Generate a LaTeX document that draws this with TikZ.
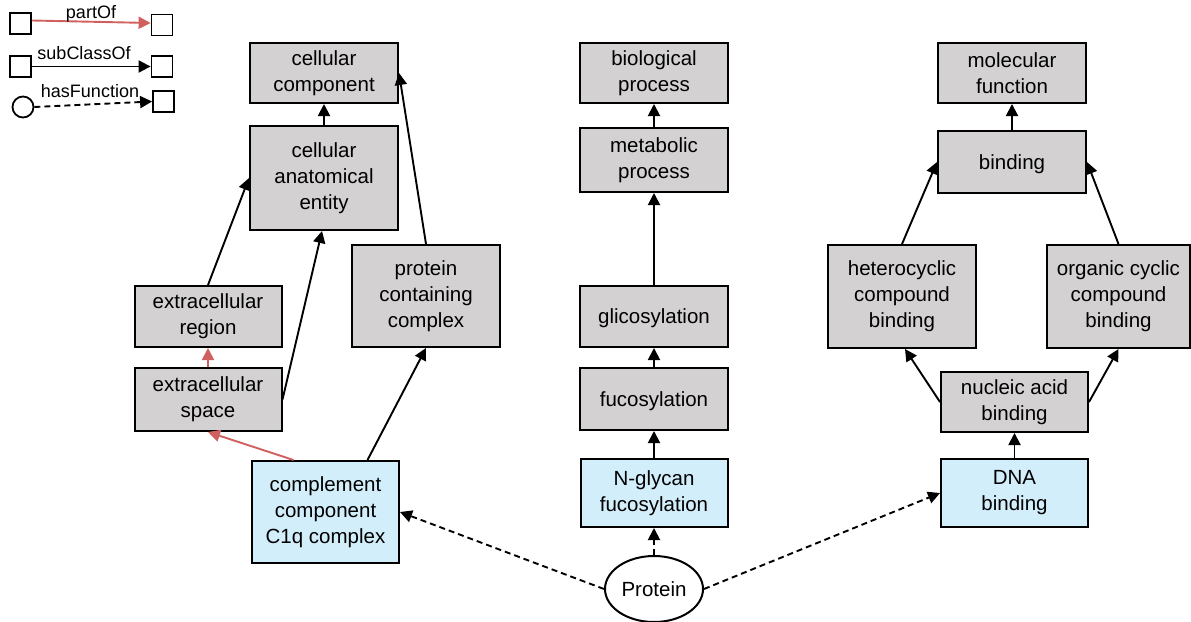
\documentclass[tikz,border=0pt]{standalone}
\usepackage{fontspec}
\setmainfont{Liberation Sans}
\usetikzlibrary{arrows.meta,shapes.geometric}
\definecolor{boxgray}{HTML}{D3D1D2}
\definecolor{boxblue}{HTML}{D3EEFB}
\definecolor{partred}{HTML}{D0605E}
\begin{document}
\begin{tikzpicture}[x=1pt,y=-1pt,
  term/.style={draw=black, line width=2pt, fill=boxgray, align=center, inner sep=0pt,
    font=\fontsize{20.5}{26}\selectfont, execute at begin node={\rule{0pt}{19pt}}, minimum width=148pt},
  annot/.style={term, fill=boxblue},
  legbox/.style={draw=black, line width=1.8pt, fill=white, minimum width=21pt, minimum height=21pt, inner sep=0pt},
  legtext/.style={font=\fontsize{18}{20}\selectfont, inner sep=0pt},
  sub/.style={line width=1.9pt, -{Triangle[length=12pt,width=12pt]}},
  part/.style={sub, draw=partred, color=partred},
  hasfn/.style={sub, dash pattern=on 6pt off 4pt},
]
\useasboundingbox (0,0) rectangle (1191,621);

% legend
\node[legbox] (ls1) at (20.5,23.5) {};
\node[legbox] (lt1) at (162,25) {};
\node[legbox] (ls2) at (20.5,66.5) {};
\node[legbox] (lt2) at (162,66.5) {};
\node[draw=black, line width=1.8pt, circle, minimum size=21pt, inner sep=0pt] (ls3) at (23,107) {};
\node[legbox] (lt3) at (163.5,101.5) {};
\draw[part] ([yshift=3pt]ls1.east) -- ([yshift=2pt]lt1.west);
\draw[sub] (ls2.east) -- (lt2.west);
\draw[hasfn] (ls3.east) -- (lt3.west);
\node[legtext] (lp) at (91,14) {partOf};
\node[legtext] (ls) at (84,53) {subClassOf};
\node[legtext] (lh) at (90,91) {hasFunction};

% cellular component branch
\node[term, minimum height=60pt] (cc) at (324,73) {cellular\\component};
\node[term, minimum height=104pt] (cae) at (324,178) {cellular\\anatomical\\entity};
\node[term, minimum width=147pt, minimum height=61pt] (ecr) at (208,316.5) {extracellular\\region};
\node[term, minimum width=147pt, minimum height=63pt] (ecs) at (208,399.5) {extracellular\\space};
\node[term, minimum height=102pt] (pcc) at (426,296) {protein\\containing\\complex};
\node[annot, minimum width=147pt, minimum height=102pt] (c1q) at (325.5,512) {complement\\component\\C1q complex};

% biological process branch
\node[term, minimum height=60pt] (bp) at (654,73) {biological\\process};
\node[term, minimum height=64pt] (mp) at (654,160) {metabolic\\process};
\node[term, minimum height=61pt] (gli) at (654,316.5) {glicosylation};
\node[term, minimum height=62pt] (fuc) at (654,399) {fucosylation};
\node[annot, minimum width=147pt, minimum height=68pt] (ngf) at (654,493) {N-glycan\\fucosylation};

% molecular function branch
\node[term, minimum height=60pt] (mf) at (1012,73) {molecular\\function};
\node[term, minimum height=62pt] (bind) at (1012,162) {binding};
\node[term, minimum height=103pt] (het) at (902,296.5) {heterocyclic\\compound\\binding};
\node[term, minimum width=143pt, minimum height=103pt] (org) at (1118.5,296.5) {organic cyclic\\compound\\binding};
\node[term, minimum width=147pt, minimum height=60pt] (nab) at (1014.5,402) {nucleic acid\\binding};
\node[annot, minimum width=147pt, minimum height=68pt] (dna) at (1014.5,493) {DNA\\binding};

% the protein
\node[draw=black, line width=2pt, fill=white, ellipse, minimum width=98pt, minimum height=66pt, inner sep=0pt,
  font=\fontsize{20.5}{26}\selectfont] (prot) at (654,589) {Protein};

% subClassOf edges
\draw[sub] (cae) -- (cc);
\draw[sub] (pcc.north) -- (cc.east);
\draw[sub] (ecr.north) -- (cae.west);
\draw[sub] (ecs.east) -- ([xshift=-2pt]cae.south);
\draw[sub] ([xshift=42pt]c1q.north) -- (pcc.south);
\draw[sub] (mp) -- (bp);
\draw[sub] (gli) -- (mp);
\draw[sub] (fuc) -- (gli);
\draw[sub] (ngf) -- (fuc);
\draw[sub] (bind) -- (mf);
\draw[sub] (dna) -- (nab);
\draw[sub] (nab.west) -- ([xshift=3pt]het.south);
\draw[sub] (nab.east) -- (org.south);
\draw[sub] (het.north) -- (bind.west);
\draw[sub] (org.north) -- (bind.east);

% partOf edges
\draw[part] (ecs) -- (ecr);
\draw[part] ([xshift=-32pt]c1q.north) -- (ecs.south);

% hasFunction edges
\draw[hasfn] (prot.west) -- (c1q.east);
\draw[hasfn] (prot) -- (ngf);
\draw[hasfn] (prot.east) -- (dna.west);
\end{tikzpicture}
\end{document}
